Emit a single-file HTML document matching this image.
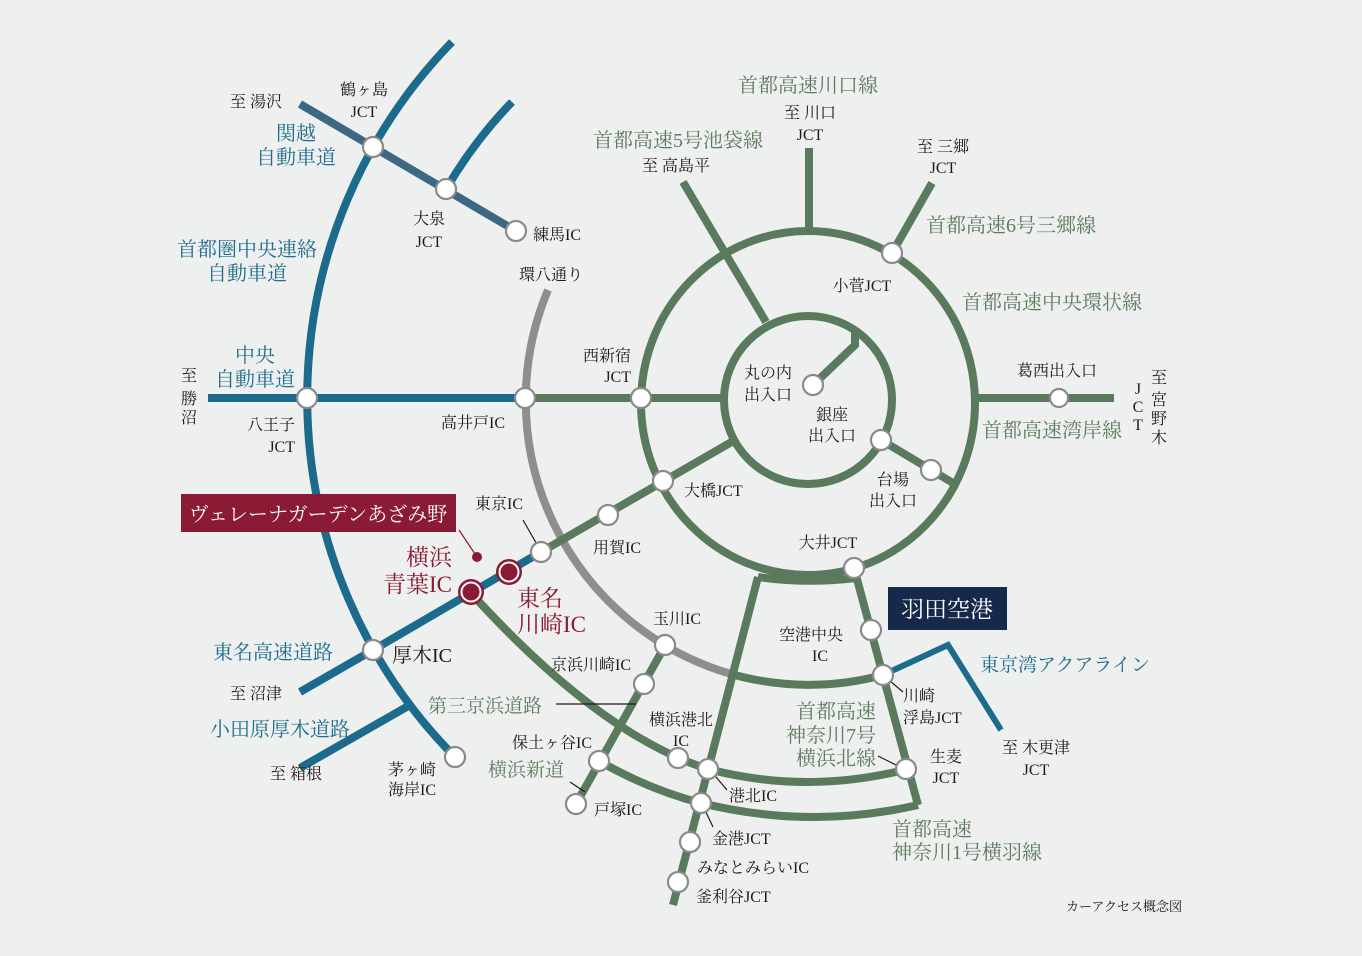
<!DOCTYPE html>
<html><head><meta charset="utf-8"><style>
html,body{margin:0;padding:0;background:#eef0ef;}
svg{display:block;}
text{font-family:"Liberation Serif","Noto Serif CJK JP","Noto Serif CJK SC",serif;}
.k{fill:#231815;font-size:16px;}
.g{fill:#5e7b60;font-size:20px;}
.b{fill:#1f6d8e;font-size:20px;}
.r{fill:#8b1a35;font-size:23px;}
</style></head><body>
<svg width="1362" height="956" viewBox="0 0 1362 956" xmlns="http://www.w3.org/2000/svg">
<rect width="1362" height="956" fill="#eef0ef"/>
<g fill="none" stroke-width="8">
<!-- blue -->
<path d="M452,42 A510,510 0 0 0 455,757" stroke="#1d6b8c"/>
<path d="M446,189 Q475,140 512,102" stroke="#1d6b8c"/>
<path d="M300,104 L516,231" stroke="#3d6883"/>
<path d="M208,398 L525,398" stroke="#1d6b8c"/>
<path d="M300,692 L373,650 L541,552" stroke="#1d6b8c"/>
<path d="M300,768 L410,705" stroke="#1d6b8c"/>
<path d="M883,675 L948,645 L1001,730" stroke="#1d6b8c" stroke-width="6"/>
<!-- gray -->
<path d="M548,290 A285,285 0 0 0 731,674" stroke="#8e8e8e"/>
<!-- green -->
<g stroke="#5a7a5d">
<ellipse cx="808" cy="403" rx="167" ry="172"/>
<circle cx="808" cy="400" r="84"/>
<path d="M731,674 A285,285 0 0 0 883,675"/>
<path d="M525,398 L723,398"/>
<path d="M974,398 L1114,398"/>
<path d="M541,552 L735,440"/>
<path d="M683,182 L766,322"/>
<path d="M809,148 L809,232"/>
<path d="M932,183 L892,253"/>
<path d="M881,440 L953,483"/>
<path d="M855,330 L855,345 L813,385"/>
<path d="M471,593 Q600,735 708,769"/>
<path d="M708,769 Q807,795 908,769"/>
<path d="M666,644 L576,804"/>
<path d="M599,761 Q650,790 701,803 Q810,830 918,805"/>
<path d="M758,577 L673,905"/>
<path d="M758,577 Q806,584 856,578"/>
<path d="M854,568 L918,805"/>
</g>
</g>
<!-- leaders -->
<g stroke="#231815" stroke-width="1.2" fill="none">
<line x1="523" y1="520" x2="539" y2="548"/>
<line x1="883" y1="675" x2="903" y2="692"/>
<line x1="710" y1="770" x2="727" y2="790"/>
<line x1="703" y1="806" x2="713" y2="827"/>
<line x1="878" y1="756" x2="906" y2="770"/>
<line x1="570" y1="782" x2="585" y2="792"/>
<line x1="556" y1="704" x2="636" y2="704"/>
<line x1="459" y1="530" x2="477" y2="557" stroke="#8b1a35"/>
</g>
<!-- nodes -->
<g fill="#fff" stroke="#8a8a8a" stroke-width="2.2">
<circle cx="373" cy="147" r="10"/><circle cx="446" cy="189" r="10"/><circle cx="516" cy="231" r="10"/>
<circle cx="307" cy="398" r="10"/><circle cx="525" cy="398" r="10"/><circle cx="641" cy="398" r="10"/>
<circle cx="1059" cy="398" r="9"/><circle cx="813" cy="385" r="10"/><circle cx="881" cy="440" r="10"/>
<circle cx="931" cy="470" r="10"/><circle cx="892" cy="253" r="10"/><circle cx="663" cy="481" r="10"/>
<circle cx="608" cy="515" r="10"/><circle cx="541" cy="552" r="10"/><circle cx="854" cy="568" r="10"/>
<circle cx="871" cy="630" r="10"/><circle cx="883" cy="675" r="10"/><circle cx="665" cy="645" r="10"/>
<circle cx="644" cy="684" r="10"/><circle cx="599" cy="761" r="10"/><circle cx="576" cy="804" r="10"/>
<circle cx="678" cy="758" r="10"/><circle cx="708" cy="769" r="10"/><circle cx="906" cy="769" r="10"/>
<circle cx="701" cy="803" r="10"/><circle cx="690" cy="842" r="10"/><circle cx="678" cy="882" r="10"/>
<circle cx="373" cy="650" r="10"/><circle cx="455" cy="757" r="10"/>
</g>
<circle cx="471" cy="592" r="13" fill="#8b1a35"/><circle cx="471" cy="592" r="9.5" fill="none" stroke="#fff" stroke-width="2"/>
<circle cx="509" cy="572" r="13" fill="#8b1a35"/><circle cx="509" cy="572" r="9.5" fill="none" stroke="#fff" stroke-width="2"/>
<circle cx="477" cy="557" r="5" fill="#8b1a35"/>
<!-- boxes -->
<rect x="181" y="494" width="275" height="38" fill="#8b1a35"/>
<text x="318" y="521" text-anchor="middle" style="fill:#fff;font-size:20px">ヴェレーナガーデンあざみ野</text>
<rect x="888" y="587" width="119" height="43" fill="#17294a"/>
<text x="947" y="617" text-anchor="middle" style="fill:#fff;font-size:23px">羽田空港</text>
<!-- green titles -->
<text class="g" x="808" y="92" text-anchor="middle">首都高速川口線</text>
<text class="g" x="678" y="147" text-anchor="middle">首都高速5号池袋線</text>
<text class="g" x="926" y="232">首都高速6号三郷線</text>
<text class="g" x="962" y="309">首都高速中央環状線</text>
<text class="g" x="982" y="437">首都高速湾岸線</text>
<text class="g" x="428" y="712" style="font-size:19px">第三京浜道路</text>
<text class="g" x="488" y="776" style="font-size:19px">横浜新道</text>
<text class="g" x="836" y="718" text-anchor="middle">首都高速</text>
<text class="g" x="831" y="742" text-anchor="middle">神奈川7号</text>
<text class="g" x="836" y="765" text-anchor="middle">横浜北線</text>
<text class="g" x="892" y="836">首都高速</text>
<text class="g" x="892" y="859">神奈川1号横羽線</text>
<!-- blue titles -->
<text class="b" x="296" y="140" text-anchor="middle">関越</text>
<text class="b" x="296" y="164" text-anchor="middle">自動車道</text>
<text class="b" x="247" y="256" text-anchor="middle">首都圏中央連絡</text>
<text class="b" x="247" y="280" text-anchor="middle">自動車道</text>
<text class="b" x="255" y="362" text-anchor="middle">中央</text>
<text class="b" x="255" y="386" text-anchor="middle">自動車道</text>
<text class="b" x="213" y="659">東名高速道路</text>
<text class="b" x="210" y="736">小田原厚木道路</text>
<text class="b" x="980" y="671" style="font-size:19px">東京湾アクアライン</text>
<!-- red -->
<text class="r" x="452" y="565" text-anchor="end">横浜</text>
<text class="r" x="452" y="592" text-anchor="end">青葉IC</text>
<text class="r" x="517" y="606">東名</text>
<text class="r" x="517" y="632">川崎IC</text>
<!-- black labels -->
<g class="k">
<text x="810" y="118" text-anchor="middle">至 川口</text>
<text x="810" y="140" text-anchor="middle">JCT</text>
<text x="676" y="171" text-anchor="middle">至 高島平</text>
<text x="943" y="152" text-anchor="middle">至 三郷</text>
<text x="943" y="173" text-anchor="middle">JCT</text>
<text x="862" y="291" text-anchor="middle">小菅JCT</text>
<text x="1017" y="376">葛西出入口</text>
<text x="1159" y="383" text-anchor="middle">至</text>
<text x="1159" y="405" text-anchor="middle">宮</text>
<text x="1159" y="424" text-anchor="middle">野</text>
<text x="1159" y="443" text-anchor="middle">木</text>
<text x="1138" y="394" text-anchor="middle">J</text>
<text x="1138" y="412" text-anchor="middle">C</text>
<text x="1138" y="430" text-anchor="middle">T</text>
<text x="744" y="378">丸の内</text>
<text x="744" y="400">出入口</text>
<text x="832" y="420" text-anchor="middle">銀座</text>
<text x="832" y="441" text-anchor="middle">出入口</text>
<text x="893" y="485" text-anchor="middle">台場</text>
<text x="893" y="506" text-anchor="middle">出入口</text>
<text x="684" y="496">大橋JCT</text>
<text x="631" y="361" text-anchor="end">西新宿</text>
<text x="631" y="382" text-anchor="end">JCT</text>
<text x="519" y="280">環八通り</text>
<text x="441" y="428">高井戸IC</text>
<text x="295" y="430" text-anchor="end">八王子</text>
<text x="295" y="452" text-anchor="end">JCT</text>
<text x="189" y="381" text-anchor="middle">至</text>
<text x="189" y="404" text-anchor="middle">勝</text>
<text x="189" y="423" text-anchor="middle">沼</text>
<text x="230" y="107">至 湯沢</text>
<text x="364" y="95" text-anchor="middle">鶴ヶ島</text>
<text x="364" y="117" text-anchor="middle">JCT</text>
<text x="429" y="224" text-anchor="middle">大泉</text>
<text x="429" y="247" text-anchor="middle">JCT</text>
<text x="533" y="240">練馬IC</text>
<text x="475" y="509">東京IC</text>
<text x="593" y="553">用賀IC</text>
<text x="828" y="548" text-anchor="middle">大井JCT</text>
<text x="811" y="640" text-anchor="middle">空港中央</text>
<text x="820" y="661" text-anchor="middle">IC</text>
<text x="653" y="624">玉川IC</text>
<text x="551" y="670">京浜川崎IC</text>
<text x="903" y="701">川崎</text>
<text x="903" y="723">浮島JCT</text>
<text x="1036" y="753" text-anchor="middle">至 木更津</text>
<text x="1036" y="775" text-anchor="middle">JCT</text>
<text x="946" y="762" text-anchor="middle">生麦</text>
<text x="946" y="783" text-anchor="middle">JCT</text>
<text x="681" y="725" text-anchor="middle">横浜港北</text>
<text x="681" y="746" text-anchor="middle">IC</text>
<text x="512" y="748">保土ヶ谷IC</text>
<text x="729" y="801">港北IC</text>
<text x="594" y="815">戸塚IC</text>
<text x="712" y="844">金港JCT</text>
<text x="697" y="873">みなとみらいIC</text>
<text x="696" y="902">釜利谷JCT</text>
<text x="392" y="662" style="font-size:20px">厚木IC</text>
<text x="230" y="699">至 沼津</text>
<text x="270" y="779">至 箱根</text>
<text x="412" y="775" text-anchor="middle">茅ヶ崎</text>
<text x="412" y="795" text-anchor="middle">海岸IC</text>
<text x="1066" y="911" style="font-size:13px">カーアクセス概念図</text>
</g>
</svg>
</body></html>
